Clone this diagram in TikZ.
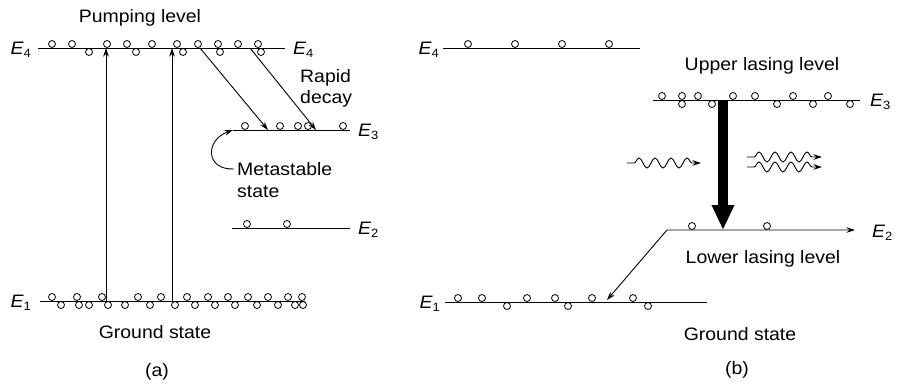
\documentclass[tikz,border=0pt]{standalone}
\usepackage{fontspec}
\setmainfont{Liberation Sans}[FakeStretch=1.08]
\usetikzlibrary{arrows.meta,decorations.pathmorphing}
\newcommand\En[1]{{\itshape E}\raisebox{-0.22em}{\fontsize{12}{12}\selectfont #1}}
\begin{document}
\begin{tikzpicture}[x=1pt,y=-1pt,
  lvl/.style={line width=0.9pt},
  atom/.style={line width=0.8pt},
  arr/.style={-{Stealth[length=8.5pt,width=5.5pt]}, line width=0.9pt},
  txt/.style={font=\fontsize{18}{21}\selectfont, inner sep=0pt},
  wave/.style={arr, decorate, decoration={snake, segment length=16pt, amplitude=5pt, pre length=7pt, post length=8pt}}]
\useasboundingbox (0,0) rectangle (902,383);

% ---------------- panel (a) ----------------
\coordinate (a4l) at (38,48);  \coordinate (a4r) at (285,48);
\coordinate (a3l) at (233,130); \coordinate (a3r) at (350,130);
\coordinate (a2l) at (232,228); \coordinate (a2r) at (350,228);
\coordinate (a1l) at (40,301);  \coordinate (a1r) at (305,301);
\draw[lvl] (a4l) -- (a4r);
\draw[lvl] (a3l) -- (a3r);
\draw[lvl] (a2l) -- (a2r);
\draw[lvl] (a1l) -- (a1r);

\node[txt, anchor=base east] (a4L) at (31,54) {\En4};
\node[txt, anchor=base west] (a4R) at (293,54) {\En4};
\node[txt, anchor=base west] (a3R) at (358,136) {\En3};
\node[txt, anchor=base west] (a2R) at (358,234) {\En2};
\node[txt, anchor=base east] (a1L) at (31,307) {\En1};

\foreach \x in {52,72,107,127,152,177,198,218,238,258} \draw[atom] (\x,44) circle (3.5pt);
\foreach \x in {89,136,183,220,261} \draw[atom] (\x,52) circle (3.5pt);
\foreach \x in {245,280,298,308,343} \draw[atom] (\x,126) circle (3.5pt);
\foreach \x in {247,287} \draw[atom] (\x,224) circle (3.5pt);
\foreach \x in {52,77,102,138,161,187,208,228,248,268,288,302} \draw[atom] (\x,297) circle (3.5pt);
\foreach \x in {61,79,89,108,125,150,175,195,215,235,257,278,295,303} \draw[atom] (\x,305) circle (3.5pt);

\coordinate (u1b) at (106,301); \coordinate (u1t) at (106,48);
\coordinate (u2b) at (172,301); \coordinate (u2t) at (172,48);
\draw[arr] (u1b) -- (u1t);
\draw[arr] (u2b) -- (u2t);
\coordinate (d1s) at (200,48); \coordinate (d1e) at (268,130);
\coordinate (d2s) at (250,48); \coordinate (d2e) at (316,130);
\draw[arr] (d1s) -- (d1e);
\draw[arr] (d2s) -- (d2e);

\node[txt, anchor=base] (pump) at (140,22) {Pumping level};
\node[txt, anchor=base west] (rap) at (300,82) {Rapid};
\node[txt, anchor=base west] (dec) at (300,103) {decay};
\node[txt, anchor=base west] (meta) at (237,175) {Metastable};
\node[txt, anchor=base west] (stt) at (237,197) {state};
\coordinate (ms) at (234,169);
\draw[arr] (ms) .. controls (205,170) and (205,140) .. (a3l);
\node[txt, anchor=base] (gsa) at (155,338) {Ground state};
\node[txt, anchor=base] (capa) at (157,376) {(a)};

% ---------------- panel (b) ----------------
\coordinate (b4l) at (443,48);  \coordinate (b4r) at (640,48);
\coordinate (b3l) at (653,100); \coordinate (b3r) at (860,100);
\coordinate (b2l) at (667,230); \coordinate (b2r) at (855,230);
\coordinate (b1l) at (445,302); \coordinate (b1r) at (707,302);
\coordinate (b1a) at (607,300);
\draw[lvl] (b4l) -- (b4r);
\draw[lvl] (b3l) -- (b3r);
\draw[lvl] (b1l) -- (b1r);
\draw[{Stealth[length=8.5pt,width=5.5pt]}-{Stealth[length=8.5pt,width=5.5pt]}, line width=0.9pt] (b1a) -- (b2l) -- (b2r);

\node[txt, anchor=base east] (b4L) at (439,54) {\En4};
\node[txt, anchor=base west] (b3R) at (870,106) {\En3};
\node[txt, anchor=base west] (b2R) at (872,237) {\En2};
\node[txt, anchor=base east] (b1L) at (440,308) {\En1};

\foreach \x in {468,515,562,609} \draw[atom] (\x,44) circle (3.5pt);
\foreach \x in {662,682,698,733,755,793,828} \draw[atom] (\x,96) circle (3.5pt);
\foreach \x in {682,712,777,813,850} \draw[atom] (\x,104) circle (3.5pt);
\foreach \x in {692,767} \draw[atom] (\x,226) circle (3.5pt);
\foreach \x in {458,482,527,555,592,633} \draw[atom] (\x,298) circle (3.5pt);
\foreach \x in {507,568,648} \draw[atom] (\x,306) circle (3.5pt);

\coordinate (tk1) at (723,100); \coordinate (tk2) at (723,230);
\draw[line width=10pt, -{Triangle[length=25pt,width=21pt]}] (tk1) -- (tk2);

\coordinate (w1s) at (627,163); \coordinate (w1e) at (701,163);
\coordinate (w2s) at (747,157); \coordinate (w2e) at (822,157);
\coordinate (w3s) at (747,167); \coordinate (w3e) at (822,167);
\draw[wave] (w1s) -- (w1e);
\draw[wave] (w2s) -- (w2e);
\draw[wave] (w3s) -- (w3e);

\node[txt, anchor=base] (ull) at (762,70) {Upper lasing level};
\node[txt, anchor=base] (lll) at (763,263) {Lower lasing level};
\node[txt, anchor=base] (gsb) at (740,340) {Ground state};
\node[txt, anchor=base] (capb) at (737,374) {(b)};
\end{tikzpicture}
\end{document}
